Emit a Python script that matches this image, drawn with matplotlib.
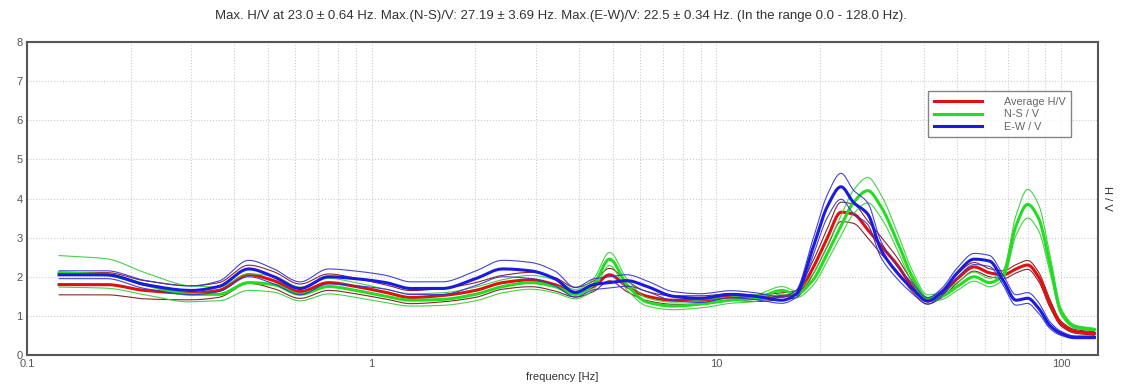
import numpy as np
import matplotlib
matplotlib.use("Agg")
import matplotlib.pyplot as plt
from matplotlib.ticker import LogLocator, NullFormatter, FixedLocator

freq = [0.124, 0.17, 0.22, 0.3, 0.36, 0.44, 0.52, 0.62, 0.75, 0.9, 1.1, 1.3, 1.6, 2.0,
        2.4, 2.9, 3.4, 3.9, 4.4, 4.9, 5.5, 6.3, 7.5, 9, 11, 13, 15.5, 17, 19, 21, 23,
        25, 27.5, 30, 33.5, 37, 41, 45, 50, 56, 62, 68, 74, 80, 86, 93, 100, 110, 125]

avg_hv = [1.80, 1.80, 1.65, 1.58, 1.65, 2.05, 1.90, 1.62, 1.85, 1.75, 1.60, 1.47, 1.52, 1.65,
          1.85, 1.92, 1.80, 1.60, 1.75, 2.05, 1.75, 1.50, 1.40, 1.40, 1.48, 1.45, 1.50, 1.55,
          2.20, 3.00, 3.65, 3.60, 3.20, 2.80, 2.30, 1.75, 1.38, 1.55, 1.95, 2.25, 2.10, 2.05,
          2.20, 2.30, 2.00, 1.30, 0.80, 0.60, 0.55]
ns_v = [2.10, 2.05, 1.80, 1.55, 1.55, 1.85, 1.80, 1.55, 1.75, 1.65, 1.50, 1.40, 1.42, 1.55,
        1.75, 1.85, 1.75, 1.55, 1.80, 2.45, 1.80, 1.35, 1.25, 1.30, 1.40, 1.45, 1.65, 1.55,
        1.90, 2.60, 3.30, 3.90, 4.20, 3.80, 2.90, 2.00, 1.45, 1.50, 1.75, 2.00, 1.85, 2.05,
        3.30, 3.85, 3.50, 2.30, 1.10, 0.72, 0.65]
ew_v = [2.05, 2.05, 1.80, 1.65, 1.75, 2.20, 2.00, 1.70, 2.00, 1.95, 1.85, 1.70, 1.70, 1.95,
        2.20, 2.15, 1.95, 1.60, 1.80, 1.85, 1.90, 1.75, 1.50, 1.45, 1.55, 1.50, 1.40, 1.55,
        2.70, 3.80, 4.30, 3.90, 3.60, 2.70, 2.10, 1.70, 1.38, 1.60, 2.10, 2.45, 2.40, 1.90,
        1.40, 1.45, 1.20, 0.75, 0.55, 0.45, 0.45]

# multiplicative standard deviation factors (thin curves = mean * s, mean / s)
avg_std = [1.17, 1.17, 1.15, 1.12, 1.12, 1.12, 1.12, 1.12, 1.12, 1.12, 1.12, 1.12, 1.12, 1.12,
           1.10, 1.10, 1.10, 1.08, 1.08, 1.08, 1.08, 1.08, 1.08, 1.08, 1.06, 1.06, 1.06, 1.06,
           1.08, 1.08, 1.07, 1.07, 1.07, 1.08, 1.08, 1.08, 1.06, 1.06, 1.06, 1.05, 1.05, 1.05,
           1.05, 1.05, 1.06, 1.08, 1.08, 1.08, 1.08]
ns_std = [1.21, 1.20, 1.17, 1.14, 1.12, 1.12, 1.12, 1.12, 1.12, 1.12, 1.12, 1.12, 1.12, 1.12,
          1.10, 1.10, 1.10, 1.08, 1.08, 1.07, 1.08, 1.08, 1.08, 1.08, 1.06, 1.06, 1.06, 1.06,
          1.08, 1.08, 1.08, 1.08, 1.08, 1.08, 1.08, 1.08, 1.06, 1.06, 1.06, 1.06, 1.06, 1.06,
          1.08, 1.10, 1.10, 1.10, 1.08, 1.06, 1.05]
ew_std = [1.05, 1.05, 1.06, 1.07, 1.08, 1.10, 1.10, 1.10, 1.10, 1.10, 1.10, 1.10, 1.10, 1.10,
          1.10, 1.10, 1.10, 1.08, 1.08, 1.08, 1.08, 1.08, 1.08, 1.08, 1.06, 1.06, 1.06, 1.06,
          1.08, 1.08, 1.08, 1.08, 1.08, 1.08, 1.08, 1.08, 1.06, 1.06, 1.06, 1.06, 1.06, 1.07,
          1.10, 1.10, 1.12, 1.12, 1.10, 1.08, 1.08]

labels = ["Average H/V", "N-S / V", "E-W / V"]
title = ("Max. H/V at 23.0 \u00b1 0.64 Hz. Max.(N-S)/V: 27.19 \u00b1 3.69 Hz. "
         "Max.(E-W)/V: 22.5 \u00b1 0.34 Hz. (In the range 0.0 - 128.0 Hz).")

plt.rcParams['font.family'] = ['Liberation Sans', 'DejaVu Sans']


def pchip(x, y, xq):
    x = np.asarray(x, float)
    y = np.asarray(y, float)
    h = np.diff(x)
    d = np.diff(y) / h
    m = np.zeros_like(y)
    for k in range(1, len(y) - 1):
        if d[k - 1] * d[k] > 0:
            w1 = 2 * h[k] + h[k - 1]
            w2 = h[k] + 2 * h[k - 1]
            m[k] = (w1 + w2) / (w1 / d[k - 1] + w2 / d[k])
    m[0] = d[0]
    m[-1] = d[-1]
    idx = np.clip(np.searchsorted(x, xq) - 1, 0, len(x) - 2)
    t = (xq - x[idx]) / h[idx]
    h00 = 2 * t**3 - 3 * t**2 + 1
    h10 = t**3 - 2 * t**2 + t
    h01 = -2 * t**3 + 3 * t**2
    h11 = t**3 - t**2
    return h00 * y[idx] + h10 * h[idx] * m[idx] + h01 * y[idx + 1] + h11 * h[idx] * m[idx + 1]


fig = plt.figure(figsize=(11.21, 3.89), dpi=100)
ax = fig.add_axes([0.024, 0.0874, 0.9555, 0.8046])

lf = np.log10(freq)
lfd = np.linspace(lf[0], lf[-1], 800)
fd = 10 ** lfd

series = [
    (avg_hv, avg_std, "#e01010", "#7a1010"),
    (ns_v, ns_std, "#22dd22", "#33cc33"),
    (ew_v, ew_std, "#1a1ae0", "#3030d0"),
]
handles = []
for (mean, std, col, thin), lab in zip(series, labels):
    m = pchip(lf, mean, lfd)
    s = pchip(lf, std, lfd)
    ax.plot(fd, m * s, color=thin, lw=0.8, alpha=0.9)
    ax.plot(fd, m / s, color=thin, lw=0.8, alpha=0.9)
    h, = ax.plot(fd, m, color=col, lw=2.2, label=lab)
    handles.append(h)

ax.set_xscale('log')
ax.set_xlim(0.1, 128)
ax.set_ylim(0, 8)
ax.xaxis.set_major_locator(FixedLocator([0.1, 1, 10, 100]))
ax.set_xticklabels(["0.1", "1", "10", "100"])
ax.xaxis.set_minor_locator(LogLocator(base=10, subs=np.arange(2, 10)))
ax.xaxis.set_minor_formatter(NullFormatter())
ax.set_yticks(range(0, 9))
ax.tick_params(axis='both', which='both', length=0, labelsize=8, colors='#555555', pad=3)
ax.grid(True, which='both', axis='x', color='#cccccc', ls=':', lw=0.8)
ax.grid(True, which='major', axis='y', color='#cccccc', ls=':', lw=0.8)
for sp in ax.spines.values():
    sp.set_color('#555555')
    sp.set_linewidth(1.5)

ax.set_xlabel("frequency [Hz]", fontsize=8, color='#333333', labelpad=2)
ax.yaxis.set_label_position('right')
ax.set_ylabel("H / V", fontsize=8, color='#333333', rotation=270, labelpad=10)
fig.text(0.5, 0.958, title, ha='center', va='center', fontsize=9.5, color='#333333')

leg = ax.legend(handles=handles, loc='upper right', bbox_to_anchor=(0.98, 0.86),
                fontsize=7.8, frameon=True, fancybox=False, handlelength=4.5,
                borderpad=0.5, labelspacing=0.25, handletextpad=2.0)
leg.get_frame().set_edgecolor('#666666')
leg.get_frame().set_linewidth(1.0)
for t in leg.get_texts():
    t.set_color('#666666')

fig.savefig("out.png", dpi=100)
